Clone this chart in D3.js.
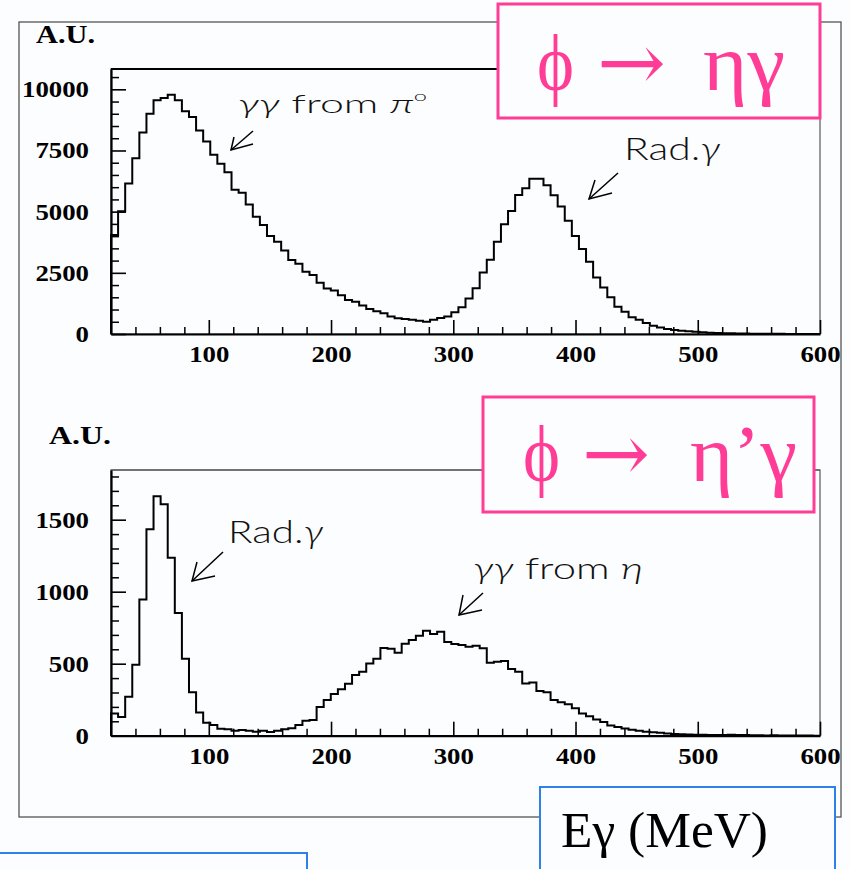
<!DOCTYPE html>
<html><head><meta charset="utf-8">
<script src="https://cdn.jsdelivr.net/npm/d3@7"></script>
<style>body{margin:0;background:#fcfdff}svg{display:block}</style>
</head><body>
<svg id="chart" width="850" height="869"></svg>
<script>
// Photon energy spectra for phi -> eta gamma and phi -> eta' gamma (arbitrary units)
const energyRange = [20, 600];   // MeV, histogram range
const binCount = 100;

const etaGammaCounts = [
  4050, 5020, 6150, 7180, 8240, 9000, 9550, 9640, 9780, 9550,
  9100, 8870, 8320, 7870, 7330, 6960, 6610, 5900, 5770, 5290,
  4790, 4450, 4000, 3770, 3410, 3020, 2870, 2540, 2410, 2090,
  1860, 1780, 1580, 1390, 1320, 1160, 1020, 925, 845, 720,
  640, 610, 585, 545, 500, 585, 655, 720, 885, 1090,
  1455, 1865, 2515, 3035, 3765, 4490, 5030, 5685, 5955, 6340,
  6340, 6080, 5670, 5210, 4625, 4010, 3470, 2950, 2310, 1900,
  1500, 1115, 910, 680, 585, 450, 340, 270, 205, 165,
  135, 110, 95, 70, 55, 45, 35, 28, 22, 18,
  14, 11, 9, 7, 6, 5, 4, 3, 2, 2
];

const etaPrimeGammaCounts = [
  155, 130, 271, 493, 945, 1434, 1662, 1607, 1236, 852,
  534, 302, 161, 90, 75, 48, 44, 35, 39, 35,
  28, 35, 25, 35, 44, 51, 74, 104, 109, 200,
  248, 289, 322, 361, 421, 444, 502, 535, 609, 604,
  576, 639, 665, 694, 729, 706, 722, 650, 637, 630,
  618, 625, 607, 507, 514, 519, 463, 444, 363, 370,
  310, 301, 248, 232, 218, 190, 155, 135, 112, 95,
  70, 60, 50, 42, 35, 28, 24, 20, 16, 12,
  10, 8, 7, 6, 5, 5, 4, 6, 5, 4,
  3, 3, 2, 3, 2, 2, 1, 1, 1, 0
];

const energyTicks = [100, 200, 300, 400, 500, 600];
const etaGammaTicks = [0, 2500, 5000, 7500, 10000];
const etaPrimeGammaTicks = [0, 500, 1000, 1500];

const BG = "#fcfdff", PINK = "#ff3d96", BLUE = "#2f80e8";
const SERIF = "'Liberation Serif', 'Times New Roman', serif";
const svg = d3.select("#chart");
svg.append("rect").attr("width", 850).attr("height", 869).attr("fill", BG);

// outer canvas frame
svg.append("rect").attr("x", 19).attr("y", 22).attr("width", 822).attr("height", 795)
  .attr("fill", "none").attr("stroke", "#555").attr("stroke-width", 1.3);

const panels = [
  { counts: etaGammaCounts, ticks: etaGammaTicks, yMax: 10830, minorStep: 500,
    top: 69, bottom: 334, frameTop: "#000", frameTopWidth: 2.2,
    unitPos: [36, 43], unitWidth: 59 },
  { counts: etaPrimeGammaCounts, ticks: etaPrimeGammaTicks, yMax: 1845, minorStep: 100,
    top: 470, bottom: 735.7, frameTop: "#666", frameTopWidth: 1.3,
    unitPos: [49, 444], unitWidth: 62 }
];

const labelFont = (sel) => sel
  .attr("font-family", SERIF)
  .attr("font-weight", "bold").attr("font-size", 23).attr("fill", "#000")
  .attr("lengthAdjust", "spacingAndGlyphs")
  .attr("textLength", function () { return 13.4 * this.textContent.length; });

panels.forEach(p => {
  const x = d3.scaleLinear().domain(energyRange).range([111, 820]);
  const y = d3.scaleLinear().domain([0, p.yMax]).range([p.bottom, p.top]);
  const g = svg.append("g");

  // plot frame
  g.append("rect").attr("x", x(energyRange[0])).attr("y", y(p.yMax))
    .attr("width", x(energyRange[1]) - x(energyRange[0])).attr("height", y(0) - y(p.yMax))
    .attr("fill", "none").attr("stroke", "#666").attr("stroke-width", 1.3);
  g.append("line").attr("x1", x(energyRange[0])).attr("x2", x(energyRange[1]))
    .attr("y1", y(p.yMax)).attr("y2", y(p.yMax))
    .attr("stroke", p.frameTop).attr("stroke-width", p.frameTopWidth);

  // histogram outline
  const bw = (energyRange[1] - energyRange[0]) / binCount;
  const pts = p.counts.map((c, i) => [energyRange[0] + i * bw, c]);
  pts.unshift([energyRange[0], 0]);
  pts.push([energyRange[1], p.counts[p.counts.length - 1]]);
  g.append("path").datum(pts)
    .attr("d", d3.line().x(d => x(d[0])).y(d => y(d[1])).curve(d3.curveStepAfter))
    .attr("fill", "none").attr("stroke", "#000").attr("stroke-width", 2);

  // x axis: minor ticks every 20 MeV, major every 100 MeV, all pointing inward
  const minorX = d3.range(40, 600, 20).filter(v => v % 100 !== 0);
  g.append("g").attr("transform", `translate(0,${y(0)})`)
    .call(d3.axisBottom(x).tickValues(minorX).tickSizeInner(-7).tickSizeOuter(0).tickFormat(""))
    .call(a => a.select(".domain").remove())
    .call(a => a.selectAll("line").attr("stroke-width", 1.5));
  g.append("g").attr("transform", `translate(0,${y(0)})`)
    .call(d3.axisBottom(x).tickValues(energyTicks).tickSizeInner(-14).tickSizeOuter(0)
      .tickPadding(12).tickFormat(d3.format("d")))
    .call(a => a.select(".domain").attr("stroke-width", 2.2))
    .call(a => a.selectAll("line").attr("stroke-width", 1.6))
    .call(a => a.selectAll("text").call(labelFont));

  // y axis
  const minorY = d3.range(p.minorStep, p.yMax, p.minorStep).filter(v => !p.ticks.includes(v));
  g.append("g").attr("transform", `translate(${x(energyRange[0])},0)`)
    .call(d3.axisLeft(y).tickValues(minorY).tickSizeInner(-8).tickSizeOuter(0).tickFormat(""))
    .call(a => a.select(".domain").remove())
    .call(a => a.selectAll("line").attr("stroke-width", 1.5));
  g.append("g").attr("transform", `translate(${x(energyRange[0])},0)`)
    .call(d3.axisLeft(y).tickValues(p.ticks).tickSizeInner(-15).tickSizeOuter(0)
      .tickPadding(22).tickFormat(d3.format("d")))
    .call(a => a.select(".domain").attr("stroke-width", 2.2))
    .call(a => a.selectAll("line").attr("stroke-width", 1.6))
    .call(a => a.selectAll("text").call(labelFont));

  // unit label
  svg.append("text").attr("x", p.unitPos[0]).attr("y", p.unitPos[1]).text("A.U.")
    .attr("font-family", SERIF).attr("font-weight", "bold")
    .attr("font-size", 25).attr("textLength", p.unitWidth).attr("lengthAdjust", "spacingAndGlyphs");
});

// decay channel titles in pink boxes
function channelBox(bx, by, bw, bh, baseline, parts) {
  svg.append("rect").attr("x", bx).attr("y", by).attr("width", bw).attr("height", bh)
    .attr("fill", BG).attr("stroke", PINK).attr("stroke-width", 3);
  const t = svg.append("g").attr("class", "channel-title").attr("fill", PINK);
  parts.forEach(([px, s, w, fam]) => t.append("text").attr("x", px).attr("y", baseline)
    .attr("font-family", fam || SERIF).attr("font-size", 80).text(s)
    .attr("textLength", w).attr("lengthAdjust", "spacingAndGlyphs"));
}
const ARROW_FONT = "'DejaVu Serif', 'DejaVu Sans', serif";
channelBox(498, 4, 322, 114, 90,
  [[537, "ϕ", 37], [597, "→", 69, ARROW_FONT], [703, "ηγ", 82]]);
channelBox(483, 397, 331, 115, 481,
  [[523, "ϕ", 37], [582, "→", 68, ARROW_FONT], [690, "η’γ", 107]]);

// peak annotations
function note(x0, y0, w, size, parts) {
  const t = svg.append("text").attr("x", x0).attr("y", y0)
    .attr("font-family", "Lato, 'Noto Sans', sans-serif").attr("font-weight", 300)
    .attr("font-size", size).attr("fill", "#111")
    .attr("textLength", w).attr("lengthAdjust", "spacingAndGlyphs");
  parts.forEach(([s, style]) => {
    const ts = t.append("tspan").text(s);
    if (style === "i") ts.attr("font-style", "italic");
    if (style === "sup") ts.attr("dy", -size * 0.5).attr("font-size", size * 0.55);
  });
}
function arrow(tail, tip, h1, h2) {
  const g = svg.append("g").attr("stroke", "#000").attr("stroke-width", 1.5).attr("fill", "none");
  g.append("path").attr("d", d3.line()([tail, tip]));
  g.append("path").attr("d", d3.line()([h1, tip, h2]));
}
note(238, 113, 189, 25, [["γγ", "i"], [" from ", ""], ["π", "i"], ["o", "sup"]]);
arrow([253, 131], [231, 150], [234, 137], [253, 144]);
note(624, 160, 96, 31, [["Rad.", ""], ["γ", "i"]]);
arrow([618, 173], [589, 199], [595, 180], [612, 193]);
note(228, 543, 95, 31, [["Rad.", ""], ["γ", "i"]]);
arrow([223, 552], [192, 581], [197, 562], [215, 576]);
note(473, 579, 170, 30, [["γγ", "i"], [" from ", ""], ["η", "i"]]);
arrow([483, 593], [459, 615], [463, 595], [482, 610]);

// axis title box and neighbouring frame
svg.append("rect").attr("x", -5).attr("y", 853).attr("width", 312).attr("height", 40)
  .attr("fill", "none").attr("stroke", BLUE).attr("stroke-width", 2);
svg.append("rect").attr("x", 540).attr("y", 787).attr("width", 295).attr("height", 100)
  .attr("fill", BG).attr("stroke", BLUE).attr("stroke-width", 2);
svg.append("text").attr("x", 561).attr("y", 847).text("Eγ (MeV)")
  .attr("font-family", SERIF).attr("font-size", 50)
  .attr("textLength", 207).attr("lengthAdjust", "spacingAndGlyphs");
</script>
</body></html>
